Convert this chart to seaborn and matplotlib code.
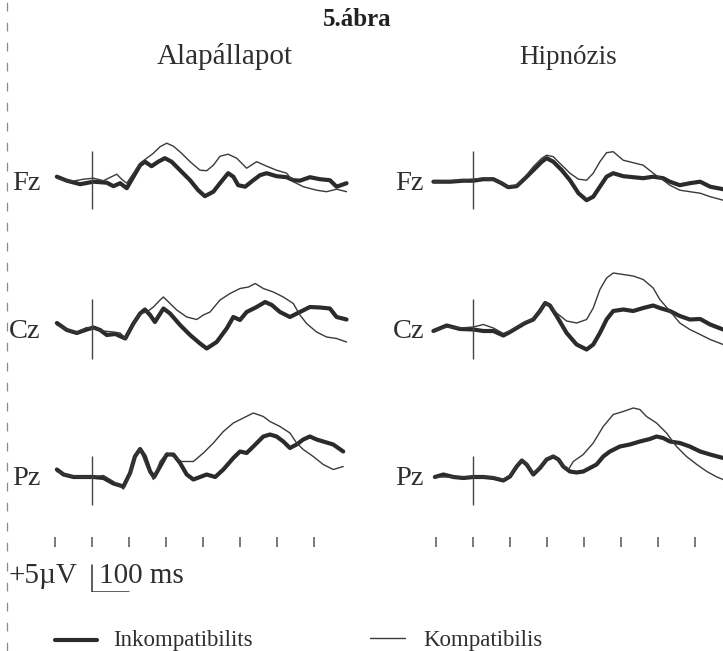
import numpy as np
import pandas as pd
import matplotlib
matplotlib.use("Agg")
import matplotlib.pyplot as plt
import seaborn as sns
from matplotlib.lines import Line2D

sns.set_theme(style="white")
plt.rcParams['font.family'] = ['Liberation Serif', 'DejaVu Serif']

# ---------------- data ----------------
fig_title = "5.ábra"
conditions = ["Alapállapot", "Hipnózis"]
channels = ["Fz", "Cz", "Pz"]
series_names = ["Inkompatibilits", "Kompatibilis"]
tick_ms = [-100, 0, 100, 200, 300, 400, 500, 600]
scale_uv = 5
scale_ms = 100

# Alapállapot (baseline) -- times in ms, amplitudes in µV
alap_fz_ink_t = [-95, -68, -32, 4, 40, 58, 76, 94, 112, 130, 143, 161, 179, 197, 215, 238, 265, 287, 305, 328, 346, 368, 382, 395, 414, 436, 454, 472, 499, 526, 544, 562, 589, 616, 643, 661, 688]
alap_fz_ink_v = [1.0, 0.2, -0.5, 0.0, -0.2, -0.9, -0.3, -1.3, 1.0, 3.3, 4.0, 3.1, 4.0, 4.7, 4.0, 2.3, 0.3, -1.7, -2.9, -2.0, -0.3, 1.7, 1.0, -0.7, -1.0, 0.3, 1.3, 1.7, 1.1, 0.9, 0.3, 0.2, 0.9, 0.5, 0.3, -1.0, -0.3]
alap_fz_komp_t = [-95, -59, -23, 4, 31, 53, 67, 80, 94, 112, 130, 148, 166, 184, 202, 220, 242, 265, 292, 310, 328, 346, 368, 391, 418, 445, 472, 499, 526, 544, 571, 607, 634, 661, 688]
alap_fz_komp_v = [0.7, 0.0, 0.5, 0.7, 0.2, 1.0, 1.5, 0.5, -0.3, 1.7, 3.7, 4.7, 5.7, 7.0, 7.7, 7.1, 5.7, 4.0, 2.3, 2.2, 3.3, 5.1, 5.5, 4.7, 2.7, 4.0, 3.1, 2.3, 1.7, 0.0, -1.0, -1.7, -2.0, -1.5, -2.0]

alap_cz_ink_t = [-95, -68, -41, -14, 4, 22, 40, 63, 90, 112, 130, 143, 157, 170, 193, 211, 238, 265, 292, 310, 337, 364, 382, 400, 418, 445, 468, 486, 508, 535, 562, 589, 616, 643, 661, 688]
alap_cz_ink_v = [1.3, -0.1, -0.7, 0.0, 0.4, -0.1, -1.1, -0.9, -1.8, 1.2, 3.2, 4.0, 2.9, 1.5, 4.2, 3.2, 0.9, -1.1, -2.8, -3.8, -2.5, 0.2, 2.5, 1.9, 3.5, 4.5, 5.5, 4.9, 3.5, 2.5, 3.5, 4.5, 4.4, 4.2, 2.5, 2.0]
alap_cz_komp_t = [-95, -68, -41, -14, 4, 31, 58, 76, 90, 112, 130, 148, 166, 184, 193, 211, 229, 256, 283, 301, 319, 346, 373, 400, 423, 441, 463, 490, 517, 544, 562, 580, 607, 634, 661, 688]
alap_cz_komp_v = [0.9, 0.0, -0.5, 0.4, 0.2, -0.3, -0.5, -0.7, -1.8, 1.2, 3.2, 3.5, 4.5, 5.9, 6.5, 5.2, 3.9, 2.5, 2.0, 2.9, 3.5, 5.9, 7.2, 8.2, 8.5, 9.2, 8.2, 7.5, 6.5, 5.2, 2.9, 1.2, -0.5, -1.5, -1.8, -2.5]

alap_pz_ink_t = [-95, -77, -50, -14, 4, 31, 58, 85, 103, 116, 130, 143, 157, 168, 184, 202, 220, 238, 256, 274, 292, 310, 333, 355, 382, 400, 418, 436, 463, 481, 499, 517, 535, 553, 571, 589, 607, 625, 652, 679]
alap_pz_ink_v = [1.5, 0.5, 0.0, 0.0, 0.0, -0.2, -1.3, -1.9, 0.8, 4.1, 5.6, 4.1, 1.1, 0.0, 2.1, 4.5, 4.5, 2.8, 0.5, -0.5, 0.0, 0.5, 0.0, 1.5, 3.8, 5.1, 4.8, 6.1, 8.1, 8.5, 8.1, 7.1, 5.8, 6.5, 7.5, 8.1, 7.5, 7.1, 6.5, 5.1]
alap_pz_komp_t = [-95, -68, -32, 4, 31, 58, 85, 103, 116, 130, 148, 166, 184, 202, 220, 242, 274, 301, 328, 355, 382, 409, 436, 463, 481, 508, 535, 553, 571, 598, 625, 652, 679]
alap_pz_komp_v = [1.1, 0.3, 0.0, 0.0, 0.3, -0.9, -2.4, 0.5, 4.1, 5.5, 2.1, -0.5, 3.1, 4.8, 4.1, 3.1, 3.1, 4.8, 6.8, 9.1, 10.8, 11.8, 12.8, 12.1, 11.1, 10.1, 8.8, 6.8, 5.5, 4.1, 2.5, 1.5, 2.1]

# Hipnózis
hip_fz_ink_t = [-107, -62, -26, 1, 28, 55, 77, 95, 118, 141, 163, 186, 199, 217, 240, 262, 285, 307, 325, 343, 361, 379, 406, 433, 460, 487, 514, 532, 559, 586, 614, 641, 676]
hip_fz_ink_v = [0.0, 0.0, 0.2, 0.2, 0.5, 0.5, -0.3, -1.1, -0.9, 0.7, 2.3, 4.0, 4.7, 4.0, 2.3, 0.3, -2.3, -3.7, -3.0, -1.0, 1.0, 1.7, 1.1, 0.9, 0.7, 1.0, 0.7, 0.0, -0.7, -0.3, 0.0, -1.0, -1.5]
hip_fz_komp_t = hip_fz_ink_t
hip_fz_komp_v = [0.0, 0.2, 0.3, 0.5, 0.7, 0.3, -0.2, -1.0, -0.7, 1.0, 3.0, 4.7, 5.3, 5.0, 3.3, 1.7, 0.5, 0.3, 1.7, 4.0, 5.8, 6.0, 4.3, 3.8, 3.3, 1.7, 0.3, -0.7, -1.7, -2.0, -2.3, -3.0, -3.7]

hip_cz_ink_t = [-107, -71, -35, 1, 28, 55, 82, 100, 118, 141, 163, 181, 195, 208, 226, 253, 280, 307, 325, 343, 361, 379, 406, 433, 460, 487, 505, 532, 559, 586, 614, 641, 676]
hip_cz_ink_v = [-0.3, 0.8, 0.1, 0.0, -0.3, -0.3, -1.2, -0.5, 0.3, 1.3, 2.0, 3.7, 5.3, 4.8, 2.7, -0.7, -3.0, -4.0, -3.0, -0.7, 2.0, 3.7, 4.0, 3.7, 4.3, 4.8, 4.3, 3.7, 2.7, 2.0, 2.1, 1.0, 0.0]
hip_cz_komp_t = hip_cz_ink_t
hip_cz_komp_v = [-0.3, 0.5, 0.3, 0.5, 1.0, 0.3, -0.8, -0.3, 0.5, 1.5, 2.1, 3.7, 5.3, 4.7, 3.3, 1.7, 1.3, 2.0, 4.3, 8.0, 10.3, 11.3, 11.0, 10.7, 10.0, 8.3, 6.0, 3.7, 1.3, 0.0, -1.0, -2.0, -3.0]

hip_pz_ink_t = [-103, -80, -53, -26, 1, 28, 55, 82, 100, 118, 132, 145, 163, 181, 199, 217, 231, 244, 262, 280, 298, 316, 334, 352, 370, 397, 424, 451, 478, 496, 514, 532, 559, 586, 614, 641, 676]
hip_pz_ink_v = [0.0, 0.5, 0.0, -0.2, 0.0, 0.0, -0.2, -0.7, 0.1, 2.1, 3.3, 2.5, 0.5, 1.8, 3.5, 4.1, 3.5, 2.1, 1.1, 0.9, 1.1, 1.8, 2.5, 4.1, 5.1, 6.1, 6.5, 7.1, 7.6, 8.1, 7.8, 7.1, 6.8, 6.1, 5.1, 4.5, 3.8]
hip_pz_komp_t = [-103, -53, 1, 55, 82, 100, 118, 132, 145, 163, 181, 199, 217, 231, 244, 258, 271, 298, 325, 352, 379, 406, 433, 451, 469, 496, 523, 550, 577, 605, 632, 659, 676]
hip_pz_komp_v = [0.0, 0.0, 0.0, 0.0, -0.5, 0.3, 2.3, 3.5, 2.7, 0.7, 2.0, 3.6, 4.3, 3.5, 2.3, 1.5, 3.1, 4.5, 6.8, 10.1, 12.5, 13.1, 13.8, 13.5, 12.1, 10.8, 8.8, 6.1, 4.1, 2.5, 1.1, 0.0, -0.5]

# ---------------- long table ----------------
traces = {
    ("Alapállapot", "Fz"): [(alap_fz_ink_t, alap_fz_ink_v), (alap_fz_komp_t, alap_fz_komp_v)],
    ("Alapállapot", "Cz"): [(alap_cz_ink_t, alap_cz_ink_v), (alap_cz_komp_t, alap_cz_komp_v)],
    ("Alapállapot", "Pz"): [(alap_pz_ink_t, alap_pz_ink_v), (alap_pz_komp_t, alap_pz_komp_v)],
    ("Hipnózis", "Fz"): [(hip_fz_ink_t, hip_fz_ink_v), (hip_fz_komp_t, hip_fz_komp_v)],
    ("Hipnózis", "Cz"): [(hip_cz_ink_t, hip_cz_ink_v), (hip_cz_komp_t, hip_cz_komp_v)],
    ("Hipnózis", "Pz"): [(hip_pz_ink_t, hip_pz_ink_v), (hip_pz_komp_t, hip_pz_komp_v)],
}
rows = []
for (cond, ch), pair in traces.items():
    for name, (t, v) in zip(series_names, pair):
        for ti, vi in zip(t, v):
            rows.append({"cond": cond, "ch": ch, "series": name, "ms": ti, "uV": vi})
df = pd.DataFrame(rows)

# ---------------- layout (pixel helpers) ----------------
W, H = 723, 651
fig = plt.figure(figsize=(W / 100, H / 100), dpi=100)
fig.patch.set_facecolor("white")

def px_axes(left, top, width, height):
    return fig.add_axes([left / W, 1 - (top + height) / H, width / W, height / H])

def fx(px):
    return px / W

def fy(py):
    return 1 - py / H

PX_MS = 0.37          # pixels per ms
PX_UV = 5.0           # pixels per µV
XLIM = (-130, 720)
YLIM = (-6, 15)
onset_px = {"Alapállapot": 92, "Hipnózis": 473}
base_px = {"Fz": 181.7, "Cz": 329.5, "Pz": 477.0}
label_px = {"Alapállapot": 41, "Hipnózis": 424}
onset_span = {"Fz": (-5.4, 6.1), "Cz": (-5.8, 6.1), "Pz": (-5.6, 4.2)}

ink = "#2f2f2f"
palette = {"Inkompatibilits": "#2b2b2b", "Kompatibilis": "#3a3a3a"}
sizes = {"Inkompatibilits": 3.0, "Kompatibilis": 1.0}

for cond in conditions:
    x0 = onset_px[cond] + XLIM[0] * PX_MS
    w = (XLIM[1] - XLIM[0]) * PX_MS
    for ch in channels:
        top = base_px[ch] - YLIM[1] * PX_UV
        h = (YLIM[1] - YLIM[0]) * PX_UV
        ax = px_axes(x0, top, w, h)
        sub = df[(df.cond == cond) & (df.ch == ch)]
        sns.lineplot(data=sub, x="ms", y="uV", hue="series", size="series",
                     palette=palette, sizes=sizes, estimator=None, sort=False,
                     legend=False, ax=ax)
        lo, hi = onset_span[ch]
        ax.vlines(0, lo, hi, color="#444444", lw=1.0)
        ax.set_xlim(*XLIM)
        ax.set_ylim(*YLIM)
        ax.axis("off")
        ax.patch.set_alpha(0)
        fig.text(fx(label_px[cond]), fy(base_px[ch] + 8), ch, ha="right",
                 va="baseline", fontsize=20.5, color=ink)

    # tick row
    tax = px_axes(x0, 537, w, 10)
    tax.set_xlim(*XLIM)
    tax.set_ylim(0, 1)
    tax.vlines(tick_ms, 0, 1, color="#555555", lw=1.1)
    tax.axis("off")

# scale bar
sax = px_axes(onset_px["Alapállapot"] + XLIM[0] * PX_MS, 592 - 6 * PX_UV,
              (XLIM[1] - XLIM[0]) * PX_MS, 6 * PX_UV)
sax.plot([0, 0, scale_ms], [scale_uv + 0.4, 0, 0], color="#333333", lw=1.1)
sax.set_xlim(*XLIM)
sax.set_ylim(0, 6)
sax.axis("off")
fig.text(fx(9), fy(583), f"+{scale_uv}µV", ha="left", va="baseline",
         fontsize=21, color=ink)
fig.text(fx(99), fy(583), f"{scale_ms} ms", ha="left", va="baseline",
         fontsize=21, color=ink)

# titles
fig.text(fx(357), fy(26), fig_title, ha="center", va="baseline",
         fontsize=18, fontweight="bold", color="#222222")
fig.text(fx(225), fy(64), conditions[0], ha="center", va="baseline",
         fontsize=21, color=ink)
fig.text(fx(568), fy(64), conditions[1], ha="center", va="baseline",
         fontsize=19.5, color=ink)

# legend
fig.add_artist(Line2D([fx(55), fx(97)], [fy(640)] * 2, color=palette[series_names[0]],
                      lw=sizes[series_names[0]], transform=fig.transFigure))
fig.text(fx(113), fy(646), series_names[0], ha="left", va="baseline",
         fontsize=16.5, color=ink)
fig.add_artist(Line2D([fx(370), fx(405)], [fy(638)] * 2, color=palette[series_names[1]],
                      lw=sizes[series_names[1]], transform=fig.transFigure))
fig.text(fx(423), fy(646), series_names[1], ha="left", va="baseline",
         fontsize=16.5, color=ink)

# dashed page edge
fig.add_artist(Line2D([fx(7), fx(7)], [0, 1], color="#8a8a8a", lw=0.9,
                      dashes=(7, 9), transform=fig.transFigure))

fig.savefig("out.png", dpi=100, facecolor="white")
